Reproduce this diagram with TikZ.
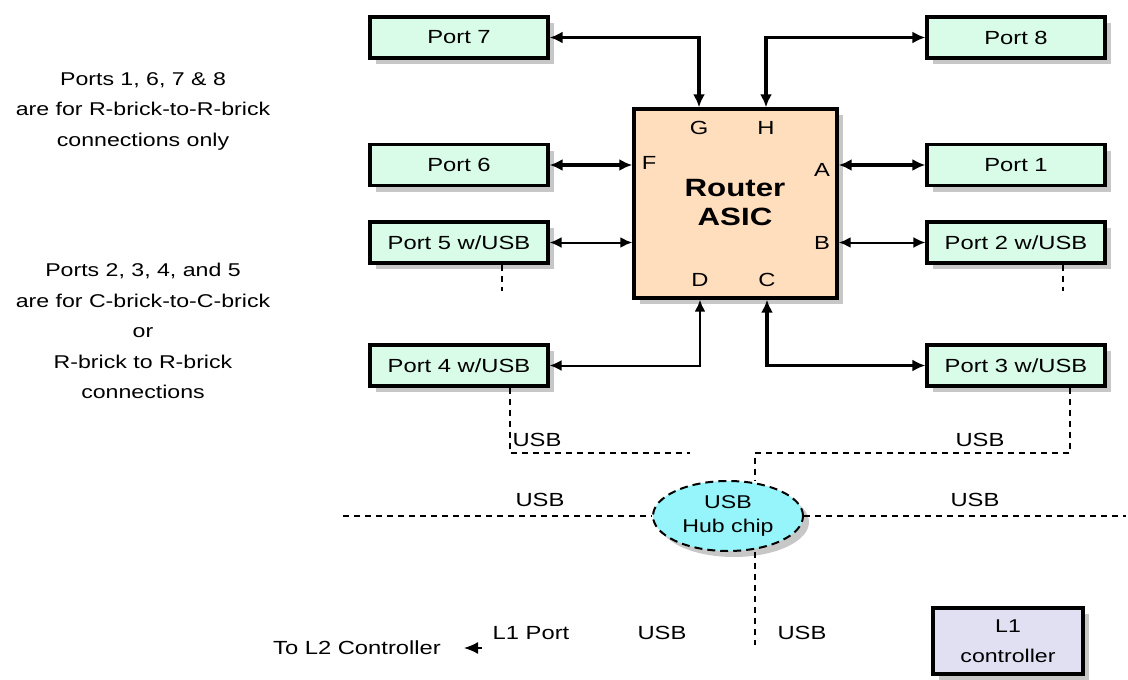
\documentclass[tikz,border=0pt]{standalone}
\usepackage{fontspec}
\setmainfont{Liberation Sans}[FakeStretch=1.25]
\usepackage{tikz}
\usetikzlibrary{arrows.meta,positioning,calc,shadows,shapes.geometric}

\definecolor{portmint}{RGB}{216,252,232}
\definecolor{asicpeach}{RGB}{255,222,190}
\definecolor{hubaqua}{RGB}{150,245,250}
\definecolor{ctrllilac}{RGB}{224,224,242}

\tikzset{
    boxshadow/.style={drop shadow={shadow xshift=6pt, shadow yshift=-6pt, fill=black!22, opacity=1}},
    portbox/.style={draw, line width=3.2pt, fill=portmint, minimum width=178pt, minimum height=41pt, inner sep=0pt, font=\fontsize{19}{22}\selectfont, boxshadow},
    pinlabel/.style={font=\fontsize{19}{22}\selectfont, inner sep=1pt},
    buslabel/.style={font=\fontsize{19}{22}\selectfont, inner sep=1pt},
    note/.style={align=center, font=\fontsize{18.5}{30.5}\selectfont},
    biwide/.style={{Latex[length=13pt,width=12pt]}-{Latex[length=13pt,width=12pt]}, line width=3.2pt},
    bithin/.style={{Latex[length=12pt,width=11pt]}-{Latex[length=12pt,width=11pt]}, line width=2pt},
    usbline/.style={line width=1.6pt, dash pattern=on 6pt off 5pt},
}

\begin{document}
\begin{tikzpicture}[x=1pt, y=-1pt]
    \useasboundingbox (0,0) rectangle (1128,680);

    % Router chip
    \node[draw, line width=3.4pt, fill=asicpeach, minimum width=203pt, minimum height=189pt, boxshadow] (router) at (735.5,203.5) {};
    \node[align=center, font=\fontsize{25}{29}\selectfont\bfseries] (asic) at (735,203) {Router\\ASIC};
    \node[pinlabel] (pinG) at (699,128) {G};
    \node[pinlabel] (pinH) at (766,128) {H};
    \node[pinlabel] (pinF) at (649,163) {F};
    \node[pinlabel] (pinA) at (822,170) {A};
    \node[pinlabel] (pinB) at (822,243) {B};
    \node[pinlabel] (pinD) at (700,280) {D};
    \node[pinlabel] (pinC) at (767,280) {C};

    % Ports
    \node[portbox] (port7) at (459,37.5) {Port 7};
    \node[portbox] (port8) at (1016,37.5) {Port 8};
    \node[portbox] (port6) at (459,165) {Port 6};
    \node[portbox] (port1) at (1016,165) {Port 1};
    \node[portbox] (port5) at (459,242.5) {Port 5 w/USB};
    \node[portbox] (port2) at (1016,242.5) {Port 2 w/USB};
    \node[portbox] (port4) at (459,365.5) {Port 4 w/USB};
    \node[portbox] (port3) at (1016,365.5) {Port 3 w/USB};

    % Hub and L1
    \node[ellipse, draw, line width=2pt, dash pattern=on 8pt off 5pt, fill=hubaqua, minimum width=150pt, minimum height=70pt, inner sep=0pt, align=center, font=\fontsize{18.5}{24}\selectfont, boxshadow] (hub) at (728,516) {USB\\Hub chip};
    \node[draw, line width=3.2pt, fill=ctrllilac, minimum width=150pt, minimum height=66pt, inner sep=0pt, align=center, font=\fontsize{18.5}{30}\selectfont, boxshadow] (l1ctrl) at (1008,641) {L1\\controller};

    % Notes
    \node[note] (noteR) at (143,111) {Ports 1, 6, 7 \& 8\\are for R-brick-to-R-brick\\connections only};
    \node[note] (noteC) at (143,331) {Ports 2, 3, 4, and 5\\are for C-brick-to-C-brick\\or\\R-brick to R-brick\\connections};

    % Router links
    \draw[biwide] (port7.east) -| (router.north -| pinG);
    \draw[biwide] (port8.west) -| (router.north -| pinH);
    \draw[biwide] (port6.east) -- (port6.east -| router.west);
    \draw[biwide] (router.east |- port1.west) -- (port1.west);
    \draw[bithin] (port5.east) -- (port5.east -| router.west);
    \draw[bithin] (router.east |- port2.west) -- (port2.west);
    \draw[bithin] (router.south -| pinD) |- (port4.east);
    \draw[biwide] (router.south -| pinC) |- (port3.west);

    % USB wiring
    \coordinate (usbleft) at (690,453);
    \coordinate (hubjoin) at (755,453);
    \coordinate (busW) at (343,516);
    \coordinate (busE) at (1126,516);
    \coordinate (l1bus) at (755,645);
    \draw[usbline] ([xshift=43pt]port5.south) -- ++(0,26);
    \draw[usbline] ([xshift=47pt]port2.south) -- ++(0,26);
    \draw[usbline] ([xshift=51pt]port4.south) |- (usbleft);
    \draw[usbline] ([xshift=54pt]port3.south) |- (hubjoin) -- (hubjoin |- hub.north);
    \draw[usbline] (busW) -- (hub.west);
    \draw[usbline] (hub.east) -- (busE);
    \draw[usbline] (hubjoin |- hub.south) -- (l1bus);

    \node[buslabel] (usbA) at (537,440) {USB};
    \node[buslabel] (usbB) at (980,440) {USB};
    \node[buslabel] (usbC) at (540,500) {USB};
    \node[buslabel] (usbD) at (975,500) {USB};

    % L1 side
    \node[buslabel] (l1port) at (531,633) {L1 Port};
    \node[buslabel] (usbE) at (662,633) {USB};
    \node[buslabel] (usbF) at (802,633) {USB};
    \node[buslabel] (tol2) at (357,648) {To L2 Controller};
    \coordinate (l2from) at (482,648);
    \coordinate (l2tip) at (464,648);
    \draw[line width=1.6pt, -{Latex[length=14pt,width=12pt]}] (l2from) -- (l2tip);
\end{tikzpicture}
\end{document}
